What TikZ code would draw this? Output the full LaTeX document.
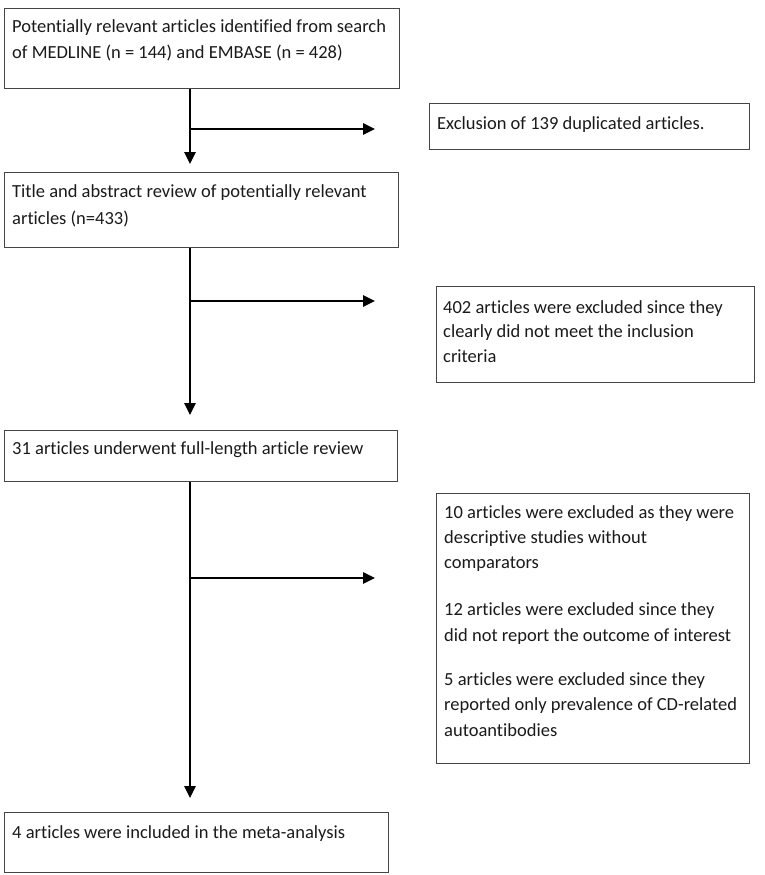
\documentclass[tikz,border=0pt]{standalone}
\usepackage{fontspec}
\setmainfont[Ligatures=CommonOff]{Carlito}
\usetikzlibrary{arrows.meta,calc}
\definecolor{boxgray}{HTML}{454545}
\definecolor{inkcol}{HTML}{1A1A1A}
\newcommand{\flowtext}[2]{\parbox[t]{#1}{\fontsize{18.5}{26}\selectfont #2}}
\begin{document}
\begin{tikzpicture}[x=1pt,y=-1pt,
  box/.style={draw=boxgray, line width=1.3pt, inner sep=0pt, anchor=north west},
  txt/.style={inner sep=0pt, anchor=base west, text=inkcol},
  flow/.style={line width=2.6pt, -{Triangle[length=12pt,width=11pt]}}]
\useasboundingbox (0,0) rectangle (764,875);
% boxes
\node[box, minimum width=395pt, minimum height=80pt]  (b1) at (4,8) {};
\node[box, minimum width=394pt, minimum height=75pt]  (b2) at (4,172) {};
\node[box, minimum width=393pt, minimum height=51pt]  (b3) at (4,430) {};
\node[box, minimum width=384pt, minimum height=60pt]  (b4) at (4,812) {};
\node[box, minimum width=320pt, minimum height=46pt]  (e1) at (429,103) {};
\node[box, minimum width=318pt, minimum height=96pt]  (e2) at (436,286) {};
\node[box, minimum width=313pt, minimum height=270pt] (e3) at (436,493) {};
% texts
\node[txt] (t1) at (12,33) {\flowtext{385pt}{Potentially relevant articles identified from search\\of MEDLINE (n = 144) and EMBASE (n = 428)}};
\node[txt] (t2) at (12,197) {\flowtext{385pt}{\fontsize{18.5}{27}\selectfont Title and abstract review of potentially relevant\\articles (n=433)}};
\node[txt] (t3) at (12,454) {\flowtext{385pt}{31 articles underwent full-length article review}};
\node[txt] (t4) at (12,838) {\flowtext{375pt}{4 articles were included in the meta-analysis}};
\node[txt] (te1) at (437,129) {\flowtext{310pt}{Exclusion of 139 duplicated articles.}};
\node[txt] (te2) at (443,313) {\flowtext{305pt}{\fontsize{18.5}{24.5}\selectfont 402 articles were excluded since they\\clearly did not meet the inclusion\\criteria}};
\node[txt] (te3) at (444,518) {\flowtext{302pt}{\fontsize{18.5}{25.3}\selectfont 10 articles were excluded as they were\\descriptive studies without\\comparators\\[22pt]12 articles were excluded since they\\did not report the outcome of interest\\[19pt]5 articles were excluded since they\\reported only prevalence of CD-related\\autoantibodies}};
% connectors
\coordinate (j1) at (190,129); \coordinate (a1) at (375,129);
\coordinate (j2) at (190,301); \coordinate (a2) at (375,301);
\coordinate (j3) at (190,578); \coordinate (a3) at (375,578);
\draw[flow, shorten >=8pt]  (b1.south -| j1) -- (b2.north -| j1);
\draw[flow, shorten >=15pt] (b2.south -| j2) -- (b3.north -| j2);
\draw[flow, shorten >=14pt] (b3.south -| j3) -- (b4.north -| j3);
\draw[flow] (j1) -- (a1);
\draw[flow] (j2) -- (a2);
\draw[flow] (j3) -- (a3);
\end{tikzpicture}
\end{document}
